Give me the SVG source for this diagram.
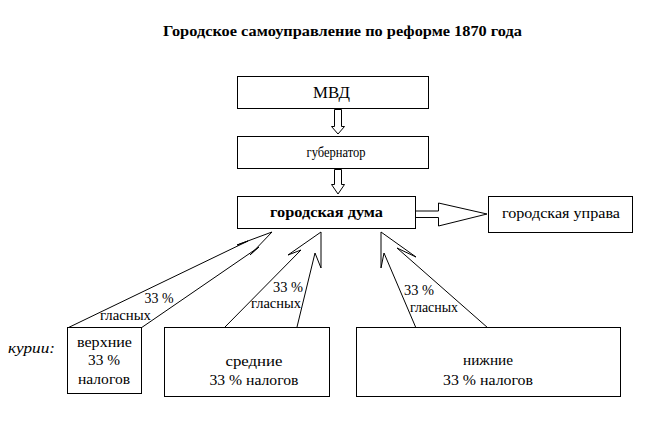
<svg xmlns="http://www.w3.org/2000/svg" width="651" height="422" viewBox="0 0 651 422">
<style>
.box{fill:#fff;stroke:#000;stroke-width:1}
text{font-family:'Liberation Serif','Times New Roman',serif;font-size:15px;fill:#000;text-anchor:middle}
.b{font-weight:bold}
.s{font-size:14px}
.arr{fill:none;stroke:#000;stroke-width:1;stroke-linejoin:miter}
.harr{fill:#fff;stroke:#000;stroke-width:1}
</style>
<rect width="651" height="422" fill="#fff"/>
<text class="b" x="342.5" y="36" textLength="359" lengthAdjust="spacingAndGlyphs">Городское самоуправление по реформе 1870 года</text>

<g id="connectors">
  <polygon class="harr" points="334.5,109.5 341.5,109.5 341.5,126.5 344.5,126.5 338,134 331.5,126.5 334.5,126.5"/>
  <polygon class="harr" points="334.5,169.5 341.5,169.5 341.5,184.5 344.5,184.5 338,194 331.5,184.5 334.5,184.5"/>
  <polyline class="arr" points="415,217.5 438.5,217.5 438.5,226 487,214 438.5,203 438.5,211 415,211"/>
  <line x1="415" y1="211" x2="438" y2="211" stroke="#808080" stroke-width="2"/>
  <polyline class="arr" points="67.5,328 248,241 237,245 272,232 250,255 259,247 141,328"/>
  <polyline class="arr" points="225,327 301,250 288,255 321,232 321,268 315,253 297,327"/>
  <polyline class="arr" points="416,328 384,253 381,268 381,232 416,257 397,248 488,328"/>
</g>

<g id="mvd">
  <rect class="box" x="237.5" y="76.5" width="191" height="32"/>
  <text x="331.5" y="98" style="font-size:17px" textLength="37" lengthAdjust="spacingAndGlyphs">МВД</text>
</g>
<g id="gubernator">
  <rect class="box" x="237.5" y="136.5" width="191" height="32"/>
  <text x="336" y="157" textLength="59" lengthAdjust="spacingAndGlyphs">губернатор</text>
</g>
<g id="duma">
  <rect class="box" x="237.5" y="196.5" width="178" height="32"/>
  <text class="b" x="326.5" y="217" textLength="113" lengthAdjust="spacingAndGlyphs">городская дума</text>
</g>
<g id="uprava">
  <rect class="box" x="488.5" y="196.5" width="144" height="36"/>
  <text x="561" y="218" textLength="118" lengthAdjust="spacingAndGlyphs">городская управа</text>
</g>

<g id="labels">
  <text class="s" x="159" y="303" textLength="29" lengthAdjust="spacingAndGlyphs">33 %</text>
  <text class="s" x="125.5" y="320" textLength="51" lengthAdjust="spacingAndGlyphs">гласных</text>
  <text class="s" x="288" y="292" textLength="30" lengthAdjust="spacingAndGlyphs">33 %</text>
  <text class="s" x="276" y="308" textLength="50" lengthAdjust="spacingAndGlyphs">гласных</text>
  <text class="s" x="419" y="295" textLength="30" lengthAdjust="spacingAndGlyphs">33 %</text>
  <text class="s" x="434" y="312" textLength="48" lengthAdjust="spacingAndGlyphs">гласных</text>
  <text x="31.5" y="353" font-style="italic" textLength="47" lengthAdjust="spacingAndGlyphs">курии:</text>
</g>

<g id="verkhnie">
  <rect class="box" x="67.5" y="327.5" width="74" height="66"/>
  <text x="104.5" y="347" textLength="55" lengthAdjust="spacingAndGlyphs">верхние</text>
  <text x="104" y="365" textLength="32" lengthAdjust="spacingAndGlyphs">33 %</text>
  <text x="104" y="384" textLength="52" lengthAdjust="spacingAndGlyphs">налогов</text>
</g>
<g id="srednie">
  <rect class="box" x="164.5" y="327.5" width="165" height="69"/>
  <text x="254" y="366" textLength="57" lengthAdjust="spacingAndGlyphs">средние</text>
  <text x="254" y="385" textLength="89" lengthAdjust="spacingAndGlyphs">33 % налогов</text>
</g>
<g id="nizhnie">
  <rect class="box" x="356.5" y="327.5" width="264" height="69"/>
  <text x="488" y="365" textLength="50" lengthAdjust="spacingAndGlyphs">нижние</text>
  <text x="488" y="385" textLength="90" lengthAdjust="spacingAndGlyphs">33 % налогов</text>
</g>
</svg>
